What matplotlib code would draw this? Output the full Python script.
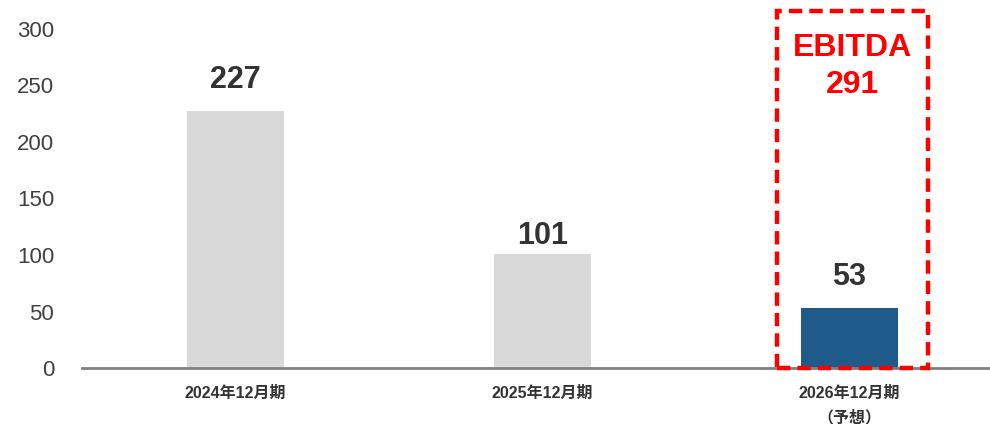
import matplotlib
matplotlib.use("Agg")
import matplotlib.pyplot as plt
from matplotlib.patches import Rectangle

# --- data ---
periods = ["2024年12月期", "2025年12月期", "2026年12月期\n（予想）"]
values = [227, 101, 53]
ebitda_label = "EBITDA"
ebitda_value = 291

bar_colors = ["#d9d9d9", "#d9d9d9", "#1f5b8a"]
label_offsets = [16, 3, 16]  # px above bar top

plt.rcParams["font.family"] = ["Liberation Sans", "Noto Sans CJK JP", "DejaVu Sans"]

fig = plt.figure(figsize=(9.9, 4.24), dpi=100)
ax = fig.add_axes([82 / 990, 56 / 424, 908 / 990, 339 / 424])

x = list(range(len(values)))
ax.bar(x, values, width=0.316, color=bar_colors, zorder=2)

for xi, v, off in zip(x, values, label_offsets):
    ax.annotate(str(v), (xi, v), xytext=(0, off), textcoords="offset pixels",
                ha="center", va="bottom", fontsize=22, fontweight="bold",
                color="#333333")

ax.set_xlim(-0.5, 2.458)
ax.set_ylim(0, 300)
ax.set_yticks(range(0, 301, 50))
ax.tick_params(axis="y", length=0, labelsize=16, labelcolor="#404040", pad=20)
ax.tick_params(axis="x", length=0, pad=13)
ax.set_xticks(x)
ax.set_xticklabels(periods, fontsize=11.5, fontweight="bold", color="#333333",
                   linespacing=1.7)

for s in ["top", "right", "left"]:
    ax.spines[s].set_visible(False)
ax.spines["bottom"].set_color("#808080")
ax.spines["bottom"].set_linewidth(2)
ax.spines["bottom"].set_zorder(3)

# red dashed highlight around the forecast column
box = Rectangle((1.764, 0), 0.492, 316, fill=False, edgecolor="#ff0000",
                linewidth=3.2, linestyle=(0, (3, 1.6)), clip_on=False, zorder=4)
ax.add_patch(box)
ax.text(2.01, 283, ebitda_label, ha="center", va="center", fontsize=23,
        fontweight="bold", color="#ff0000")
ax.text(2.01, 250, str(ebitda_value), ha="center", va="center", fontsize=23,
        fontweight="bold", color="#ff0000")

fig.savefig("out.png", dpi=100)
